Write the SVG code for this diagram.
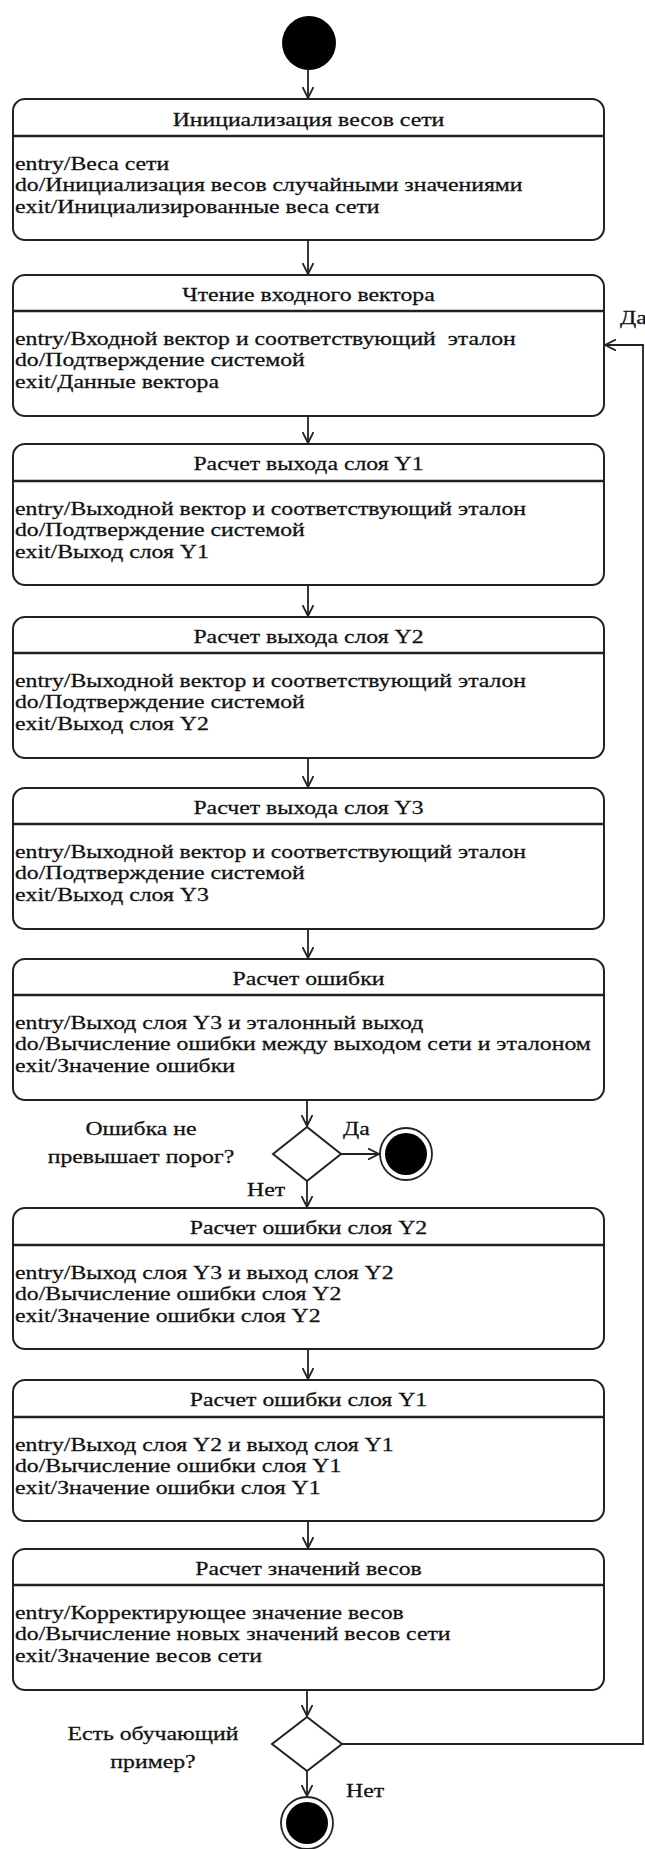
<svg xmlns="http://www.w3.org/2000/svg" width="645" height="1849" viewBox="0 0 645 1849">
<style>
text{font-family:"Liberation Serif","Times New Roman",serif;font-size:19px;fill:#111;stroke:#111;stroke-width:0.25;white-space:pre}
.t{text-anchor:middle}
.box{fill:#fff;stroke:#222;stroke-width:2}
.div{stroke:#222;stroke-width:2.5}
.ln{fill:none;stroke:#222;stroke-width:1.8}
.dia{fill:#fff;stroke:#222;stroke-width:2}
</style>
<defs>
<marker id="arr" viewBox="0 0 12 12" refX="11" refY="6" markerWidth="12" markerHeight="12" markerUnits="userSpaceOnUse" orient="auto">
<path d="M0,0.5 L11,6 L0,11.5" fill="none" stroke="#222" stroke-width="1.8"/>
</marker>
</defs>
<g id="connectors" class="ln">
<line x1="308" y1="70" x2="308" y2="98" marker-end="url(#arr)"/>
<line x1="308" y1="240" x2="308" y2="274" marker-end="url(#arr)"/>
<line x1="308" y1="416" x2="308" y2="443" marker-end="url(#arr)"/>
<line x1="308" y1="585" x2="308" y2="616" marker-end="url(#arr)"/>
<line x1="308" y1="758" x2="308" y2="787" marker-end="url(#arr)"/>
<line x1="308" y1="929" x2="308" y2="958" marker-end="url(#arr)"/>
<line x1="307" y1="1100" x2="307" y2="1126" marker-end="url(#arr)"/>
<line x1="341" y1="1154" x2="379" y2="1154" marker-end="url(#arr)"/>
<line x1="307" y1="1181" x2="307" y2="1207" marker-end="url(#arr)"/>
<line x1="308" y1="1349" x2="308" y2="1379" marker-end="url(#arr)"/>
<line x1="308" y1="1521" x2="308" y2="1548" marker-end="url(#arr)"/>
<line x1="307" y1="1690" x2="307" y2="1716" marker-end="url(#arr)"/>
<line x1="307" y1="1771" x2="307" y2="1796" marker-end="url(#arr)"/>
<polyline points="342,1744 643,1744 643,345 605,345" marker-end="url(#arr)"/>
</g>
<g id="start"><circle cx="309" cy="43" r="27" fill="#000"/></g>
<g id="n1">
<rect class="box" x="13" y="99" width="591" height="141" rx="12"/>
<line class="div" x1="13" y1="136" x2="604" y2="136"/>
<text class="t" transform="scale(1.25 1)" x="246.8" y="126">Инициализация весов сети</text>
<text transform="scale(1.25 1)" x="12" y="170">entry/Веса сети</text>
<text transform="scale(1.25 1)" x="12" y="191.5">do/Инициализация весов случайными значениями</text>
<text transform="scale(1.25 1)" x="12" y="213">exit/Инициализированные веса сети</text>
</g>
<g id="n2">
<rect class="box" x="13" y="275" width="591" height="141" rx="12"/>
<line class="div" x1="13" y1="311" x2="604" y2="311"/>
<text class="t" transform="scale(1.25 1)" x="246.8" y="301">Чтение входного вектора</text>
<text transform="scale(1.25 1)" x="12" y="345">entry/Входной вектор и соответствующий  эталон</text>
<text transform="scale(1.25 1)" x="12" y="366.5">do/Подтверждение системой</text>
<text transform="scale(1.25 1)" x="12" y="388">exit/Данные вектора</text>
</g>
<g id="n3">
<rect class="box" x="13" y="444" width="591" height="141" rx="12"/>
<line class="div" x1="13" y1="481" x2="604" y2="481"/>
<text class="t" transform="scale(1.25 1)" x="246.8" y="470">Расчет выхода слоя Y1</text>
<text transform="scale(1.25 1)" x="12" y="515">entry/Выходной вектор и соответствующий эталон</text>
<text transform="scale(1.25 1)" x="12" y="536.5">do/Подтверждение системой</text>
<text transform="scale(1.25 1)" x="12" y="558">exit/Выход слоя Y1</text>
</g>
<g id="n4">
<rect class="box" x="13" y="617" width="591" height="141" rx="12"/>
<line class="div" x1="13" y1="653" x2="604" y2="653"/>
<text class="t" transform="scale(1.25 1)" x="246.8" y="643">Расчет выхода слоя Y2</text>
<text transform="scale(1.25 1)" x="12" y="687">entry/Выходной вектор и соответствующий эталон</text>
<text transform="scale(1.25 1)" x="12" y="708.5">do/Подтверждение системой</text>
<text transform="scale(1.25 1)" x="12" y="730">exit/Выход слоя Y2</text>
</g>
<g id="n5">
<rect class="box" x="13" y="788" width="591" height="141" rx="12"/>
<line class="div" x1="13" y1="824" x2="604" y2="824"/>
<text class="t" transform="scale(1.25 1)" x="246.8" y="814">Расчет выхода слоя Y3</text>
<text transform="scale(1.25 1)" x="12" y="858">entry/Выходной вектор и соответствующий эталон</text>
<text transform="scale(1.25 1)" x="12" y="879.5">do/Подтверждение системой</text>
<text transform="scale(1.25 1)" x="12" y="901">exit/Выход слоя Y3</text>
</g>
<g id="n6">
<rect class="box" x="13" y="959" width="591" height="141" rx="12"/>
<line class="div" x1="13" y1="995" x2="604" y2="995"/>
<text class="t" transform="scale(1.25 1)" x="246.8" y="985">Расчет ошибки</text>
<text transform="scale(1.25 1)" x="12" y="1029">entry/Выход слоя Y3 и эталонный выход</text>
<text transform="scale(1.25 1)" x="12" y="1050.5">do/Вычисление ошибки между выходом сети и эталоном</text>
<text transform="scale(1.25 1)" x="12" y="1072">exit/Значение ошибки</text>
</g>
<g id="d1">
<polygon class="dia" points="307,1127 341,1154 307,1181 273,1154"/>
<text class="t" transform="scale(1.25 1)" x="112.8" y="1135">Ошибка не</text>
<text class="t" transform="scale(1.25 1)" x="112.8" y="1163">превышает порог?</text>
<text transform="scale(1.25 1)" x="274.4" y="1135">Да</text>
<text transform="scale(1.25 1)" x="197.6" y="1196">Нет</text>
</g>
<g id="end1">
<circle cx="406" cy="1154" r="26" fill="#fff" stroke="#222" stroke-width="1.8"/>
<circle cx="406" cy="1154" r="21" fill="#000"/>
</g>
<g id="n7">
<rect class="box" x="13" y="1208" width="591" height="141" rx="12"/>
<line class="div" x1="13" y1="1245" x2="604" y2="1245"/>
<text class="t" transform="scale(1.25 1)" x="246.8" y="1234">Расчет ошибки слоя Y2</text>
<text transform="scale(1.25 1)" x="12" y="1279">entry/Выход слоя Y3 и выход слоя Y2</text>
<text transform="scale(1.25 1)" x="12" y="1300.5">do/Вычисление ошибки слоя Y2</text>
<text transform="scale(1.25 1)" x="12" y="1322">exit/Значение ошибки слоя Y2</text>
</g>
<g id="n8">
<rect class="box" x="13" y="1380" width="591" height="141" rx="12"/>
<line class="div" x1="13" y1="1417" x2="604" y2="1417"/>
<text class="t" transform="scale(1.25 1)" x="246.8" y="1406">Расчет ошибки слоя Y1</text>
<text transform="scale(1.25 1)" x="12" y="1451">entry/Выход слоя Y2 и выход слоя Y1</text>
<text transform="scale(1.25 1)" x="12" y="1472.5">do/Вычисление ошибки слоя Y1</text>
<text transform="scale(1.25 1)" x="12" y="1494">exit/Значение ошибки слоя Y1</text>
</g>
<g id="n9">
<rect class="box" x="13" y="1549" width="591" height="141" rx="12"/>
<line class="div" x1="13" y1="1585" x2="604" y2="1585"/>
<text class="t" transform="scale(1.25 1)" x="246.8" y="1575">Расчет значений весов</text>
<text transform="scale(1.25 1)" x="12" y="1619">entry/Корректирующее значение весов</text>
<text transform="scale(1.25 1)" x="12" y="1640.5">do/Вычисление новых значений весов сети</text>
<text transform="scale(1.25 1)" x="12" y="1662">exit/Значение весов сети</text>
</g>
<g id="d2">
<polygon class="dia" points="307,1717 342,1744 307,1771 272,1744"/>
<text class="t" transform="scale(1.25 1)" x="122.4" y="1740">Есть обучающий</text>
<text class="t" transform="scale(1.25 1)" x="122.4" y="1768">пример?</text>
<text transform="scale(1.25 1)" x="276.8" y="1797">Нет</text>
</g>
<g id="end2">
<circle cx="307" cy="1823" r="26" fill="#fff" stroke="#222" stroke-width="1.8"/>
<circle cx="307" cy="1823" r="21" fill="#000"/>
</g>
<g id="yes-label">
<text transform="scale(1.25 1)" x="496" y="324">Да</text>
</g>
</svg>
